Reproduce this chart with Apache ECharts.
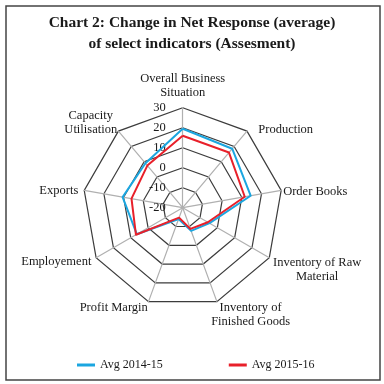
<!DOCTYPE html>
<html><head><meta charset="utf-8">
<script src="https://cdn.jsdelivr.net/npm/echarts@6/dist/echarts.min.js"></script>
<style>html,body{margin:0;padding:0;background:#fff}#c{width:384px;height:384px}</style>
</head><body><div id="c"></div>
<script>
// Indicators in clockwise order starting at top
const indicators = ['Overall Business\nSituation', 'Production', 'Order Books', 'Inventory of Raw\nMaterial', 'Inventory of\nFinished Goods', 'Profit Margin', 'Employement', 'Exports', 'Capacity\nUtilisation'];
const avg201415 = [19.5, 18.5, 14.5, -4.5, -7.7, -14, 6.5, 10.5, 9];
const avg201516 = [16, 16, 11.5, -5.5, -8.7, -14.7, 7, 6, 7.5];
const seriesNames = ['Avg 2014-15', 'Avg 2015-16'];
const axisMin = -20, axisMax = 30;
const titleText = 'Chart 2: Change in Net Response (average)\nof select indicators (Assesment)';

// ECharts radar runs counter-clockwise: reorder to keep the clockwise layout
const order = [0].concat(indicators.map((_, i) => i).slice(1).reverse());
const reorder = arr => order.map(i => arr[i]);
const FONT = 'Liberation Serif';

// per-indicator name label fine placement (clockwise order)
const nameStyles = [
  { padding: [0, 0, 1.5, 0] },
  { padding: [1, 0, 0, 10] },
  { padding: [3, 0, 0, 0] },
  { padding: [22, 0, 0, 2] },
  { align: 'center', padding: [23, 0, 0, 66] },
  { padding: [9, 0, 0, 0] },
  { padding: [7, 3, 0, 0] },
  { padding: [1, 4, 0, 0] },
  { padding: [0, 0, 13, 0] }
];

const indicatorOpts = order.map((i, k) => {
  const o = { name: indicators[i], min: axisMin, max: axisMax, nameTextStyle: nameStyles[i] };
  if (k === 0) o.axisLabel = { show: true };
  return o;
});

const chart = echarts.init(document.getElementById('c'));
chart.setOption({
  animation: false,
  backgroundColor: '#fff',
  title: {
    text: titleText, left: 'center', top: 7,
    textStyle: { fontFamily: FONT, fontSize: 15.5, fontWeight: 'bold', color: '#1a1a1a', lineHeight: 21 }
  },
  graphic: [{ type: 'rect', shape: { x: 6, y: 6, width: 374, height: 374 }, style: { fill: 'none', stroke: '#444', lineWidth: 1.5 }, silent: true }],
  legend: {
    bottom: 8, left: 72, itemGap: 66, itemWidth: 18, itemHeight: 3, icon: 'rect',
    textStyle: { fontFamily: FONT, fontSize: 12, color: '#1a1a1a' },
    data: seriesNames
  },
  radar: {
    center: [182.7, 207.7], radius: 100, startAngle: 90,
    splitNumber: 5, shape: 'polygon',
    indicator: indicatorOpts,
    axisName: {
      color: '#1a1a1a', fontFamily: FONT, fontSize: 12.5, lineHeight: 14,
      formatter: function (v) {
        return v.split('\n').map(s => '{c|' + s + '}').join('\n');
      },
      rich: { c: { align: 'center', fontFamily: FONT, fontSize: 12.5, lineHeight: 14, color: '#1a1a1a' } }
    },
    axisNameGap: 2,
    axisLabel: { show: false, fontFamily: FONT, fontSize: 12.5, color: '#1a1a1a', margin: 17 },
    axisLine: { lineStyle: { color: '#b0b0b0', width: 1.2 } },
    splitLine: { lineStyle: { color: '#3c3c3c', width: 1.2 } },
    splitArea: { show: false },
    axisTick: { show: false }
  },
  series: [{
    type: 'radar', symbol: 'none',
    data: [
      { name: seriesNames[0], value: reorder(avg201415), lineStyle: { color: '#1ba6e0', width: 2 }, itemStyle: { color: '#1ba6e0' } },
      { name: seriesNames[1], value: reorder(avg201516), lineStyle: { color: '#e8202a', width: 2 }, itemStyle: { color: '#e8202a' } }
    ]
  }]
});
</script></body></html>
